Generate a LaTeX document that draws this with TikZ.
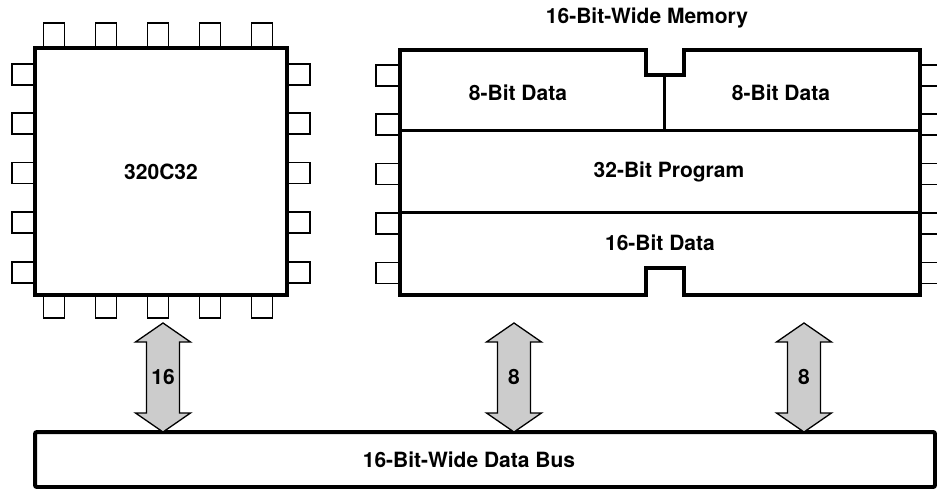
\documentclass[tikz,border=0pt]{standalone}
\usepackage{fontspec}
\setmainfont{TeX Gyre Heros}
\usetikzlibrary{positioning}

\tikzset{
  lbl/.style={font=\bfseries\fontsize{21}{24}\selectfont, inner sep=0pt},
  pinbox/.style={draw, line width=1.3pt, fill=white},
  thickline/.style={draw, line width=4pt, line join=miter},
  innerline/.style={draw, line width=3pt},
  busarrow/.style={draw, line width=1.3pt, fill=black!20, line join=miter},
}

\begin{document}
\begin{tikzpicture}[x=1pt, y=-1pt]
                \useasboundingbox (0,0) rectangle (937,489);
                % processor pins
                \foreach \i in {54,106,158,210,262}{
                    \draw[pinbox] (\i-10.5,23) rectangle (\i+10.5,48);
                    \draw[pinbox] (\i-10.5,295) rectangle (\i+10.5,318);
                }
                \foreach \j in {74.5,123.5,173,222.5,272.5}{
                    \draw[pinbox] (12,\j-10.5) rectangle (35,\j+10.5);
                    \draw[pinbox] (287,\j-10.5) rectangle (310,\j+10.5);
                }
                \node[thickline, fill=white, minimum width=252pt, minimum height=247pt, lbl] (chip) at (161,171.5) {320C32};
                % memory pins
                \begin{scope}
                    \clip (0,0) rectangle (937,489);
                    \foreach \j in {75.5,124.5,174,223.5,273}{
                        \draw[pinbox] (376,\j-10.5) rectangle (400,\j+10.5);
                        \draw[pinbox] (920,\j-10.5) rectangle (945,\j+10.5);
                    }
                \end{scope}
                \draw[thickline, fill=white] (400,50) -- (646,50) -- (646,75) -- (684,75) -- (684,50) -- (920,50)
                    -- (920,295) -- (684,295) -- (684,268) -- (646,268) -- (646,295) -- (400,295) -- cycle;
                \draw[innerline] (400,131) -- (920,131);
                \draw[innerline] (400,213) -- (920,213);
                \draw[innerline] (664,75) -- (664,131);
                \node[lbl] (memtitle) at (647,18) {16-Bit-Wide Memory};
                \node[lbl] (dataleft) at (518,93) {8-Bit Data};
                \node[lbl] (dataright) at (781,93) {8-Bit Data};
                \node[lbl] (prog) at (669,172) {32-Bit Program};
                \node[lbl] (datawide) at (660,243) {16-Bit Data};
                % data bus
                \node[thickline, rounded corners=2pt, minimum width=900pt, minimum height=55pt] (bus) at (485,459.5) {};
                \node[lbl] (buslabel) at (469,460) {16-Bit-Wide Data Bus};
                % bus arrows
                \foreach \x/\w/\n in {163/16/a, 514/8/b, 804/8/c}{
                    \draw[busarrow] (\x,323) -- (\x+27.5,342) -- (\x+16.5,342) -- (\x+16.5,413) -- (\x+27.5,413)
                        -- (\x,432) -- (\x-27.5,413) -- (\x-16.5,413) -- (\x-16.5,342) -- (\x-27.5,342) -- cycle;
                    \node[lbl] (width\n) at (\x,377) {\w};
                }
            \end{tikzpicture}
\end{document}
